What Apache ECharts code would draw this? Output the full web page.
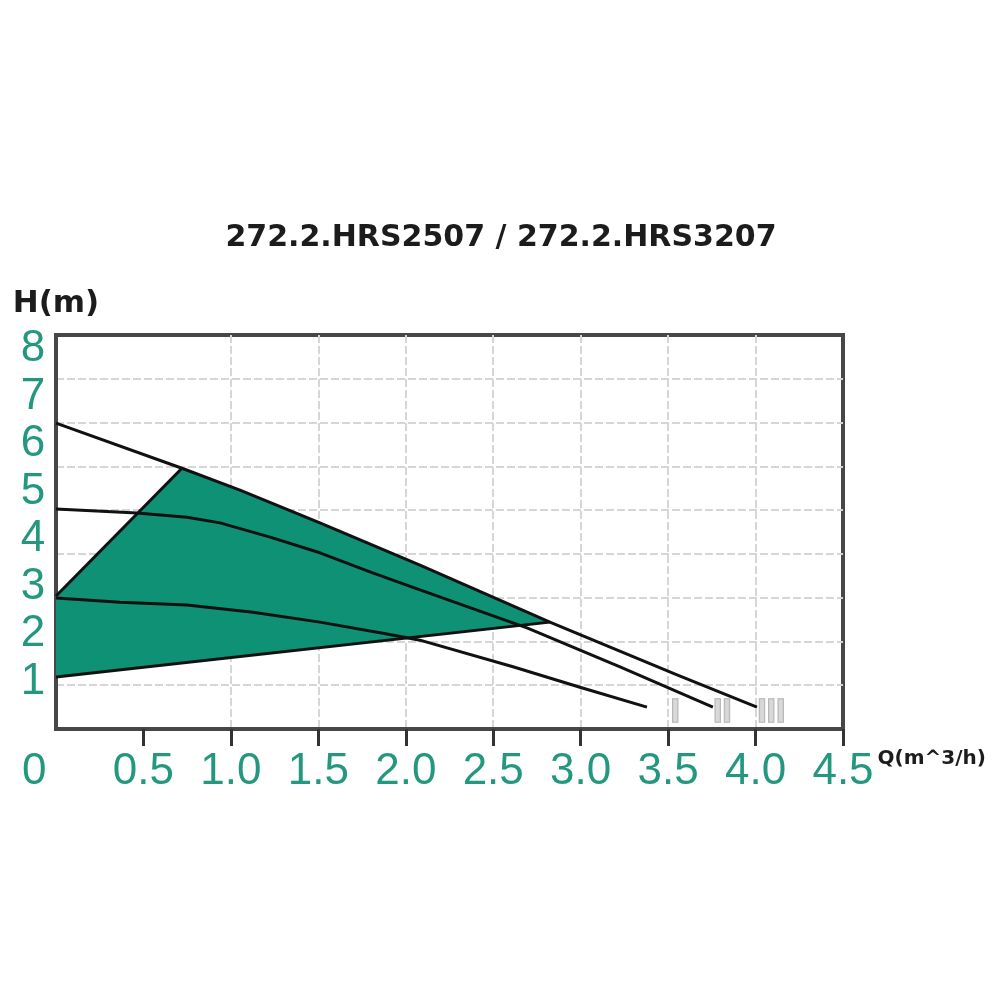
<!DOCTYPE html>
<html><head><meta charset="utf-8">
<script src="https://cdn.jsdelivr.net/npm/echarts@6/dist/echarts.min.js"></script>
<style>html,body{margin:0;padding:0;background:#fff}#c{width:1000px;height:1000px}</style>
</head><body><div id="c"></div>
<script>
const titleText = '272.2.HRS2507 / 272.2.HRS3207';
const xName = 'Q(m^3/h)';
const yName = 'H(m)';
const originLabel = '0';
const xTickValues = [0.5, 1.0, 1.5, 2.0, 2.5, 3.0, 3.5, 4.0, 4.5];
const yTickValues = [1, 2, 3, 4, 5, 6, 7, 8];
// speed III (max) curve
const curveIII = [[0, 6.44], [0.72, 5.49], [1.052, 5.03], [1.509, 4.34], [2.081, 3.45], [2.824, 2.25], [3.551, 1.14], [4.008, 0.46]];
// speed II curve
const curveII = [[0, 4.63], [0.463, 4.55], [0.749, 4.46], [0.938, 4.34], [1.224, 4.04], [1.509, 3.71], [1.795, 3.31], [2.081, 2.93], [2.693, 2.13], [3.225, 1.31], [3.756, 0.46]];
// speed I curve
const curveI = [[0, 2.76], [0.366, 2.67], [0.749, 2.61], [1.126, 2.46], [1.509, 2.25], [1.893, 2.0], [2.081, 1.87], [2.613, 1.31], [2.996, 0.88], [3.379, 0.46]];
// boundaries of the green working range
const diagonal = [[0, 2.80], [0.72, 5.49]];
const minCurve = [[0, 1.095], [2.824, 2.25]];
const speedLabels = [[3.54, 0.34, 'I'], [3.81, 0.34, 'II'], [4.09, 0.34, 'III']];

const green = '#0e9174';
const teal = '#23987e';
const frame = '#474747';
const gridLine = { color: '#d6d6d6', width: 2, type: [8, 3] };

const greenOutline = [
  ...diagonal,
  ...curveIII.filter(p => p[0] > diagonal[1][0] && p[0] <= minCurve[1][0]),
  ...minCurve.slice().reverse()
];

const lineSeries = (data) => ({
  type: 'line', data, symbol: 'none', showSymbol: false, silent: true, z: 3,
  lineStyle: { color: '#111', width: 3, join: 'round' }
});

const chart = echarts.init(document.getElementById('c'));
chart.setOption({
  animation: false,
  backgroundColor: '#fff',
  title: {
    text: titleText, left: 496, top: 218, textAlign: 'center',
    textStyle: { fontFamily: 'DejaVu Sans', fontWeight: 'bold', fontSize: 30, color: '#1c1c1c' }
  },
  grid: { left: 56, top: 335, width: 787, height: 394, show: true, borderColor: frame, borderWidth: 4, backgroundColor: 'transparent' },
  xAxis: {
    type: 'value', min: 0, max: 4.5, interval: 0.25,
    name: xName, nameLocation: 'end', nameGap: 34,
    nameTextStyle: { fontFamily: 'DejaVu Sans', fontWeight: 'bold', fontSize: 20, color: '#1c1c1c', verticalAlign: 'top', align: 'left', padding: [20, 0, 0, 0] },
    axisLine: { show: true, lineStyle: { color: frame, width: 4 } },
    axisTick: { show: true, customValues: xTickValues, length: 17, inside: false, lineStyle: { color: '#333', width: 3 } },
    axisLabel: { customValues: xTickValues, formatter: v => v.toFixed(1), margin: 21, fontFamily: 'Liberation Sans', fontSize: 44, color: teal },
    splitLine: { show: true, showMinLine: false, showMaxLine: false, lineStyle: gridLine }
  },
  yAxis: [{
    type: 'value', min: 0, max: 8.295, interval: 1,
    name: yName, nameLocation: 'end', nameGap: 16,
    nameTextStyle: { fontFamily: 'DejaVu Sans', fontWeight: 'bold', fontSize: 31, color: '#1c1c1c', align: 'center' },
    axisLine: { show: true, lineStyle: { color: frame, width: 4 } },
    axisTick: { show: false },
    axisLabel: { customValues: yTickValues, align: 'center', margin: 23, fontFamily: 'Liberation Sans', fontSize: 44, color: teal },
    splitLine: { show: false }
  }, {
    type: 'value', min: 0, max: 9, interval: 1, position: 'left',
    axisLine: { show: false }, axisTick: { show: false }, axisLabel: { show: false },
    splitLine: { show: true, showMinLine: false, showMaxLine: false, lineStyle: gridLine }
  }],
  graphic: [{
    type: 'text', left: 22, top: 750, silent: true,
    style: { text: originLabel, font: '44px "Liberation Sans"', fill: teal }
  }],
  series: [
    {
      type: 'custom', silent: true, z: 1, data: greenOutline, encode: { x: 0, y: 1 },
      renderItem: (params, api) => {
        if (params.dataIndex !== 0) return null;
        const pts = greenOutline.map(p => api.coord(p));
        return { type: 'polygon', shape: { points: pts }, style: { fill: green } };
      }
    },
    lineSeries(curveIII),
    lineSeries(curveII),
    lineSeries(curveI),
    lineSeries(diagonal),
    lineSeries(minCurve),
    {
      type: 'scatter', silent: true, z: 2, data: speedLabels, symbolSize: 1,
      itemStyle: { color: 'rgba(0,0,0,0)' },
      label: {
        show: true, position: 'inside', formatter: p => p.data[2],
        fontFamily: 'Liberation Sans', fontWeight: 'bold', fontSize: 34,
        color: '#d0d0d0', textBorderColor: '#9c9c9c', textBorderWidth: 1.5
      }
    }
  ]
});
</script>
</body></html>
